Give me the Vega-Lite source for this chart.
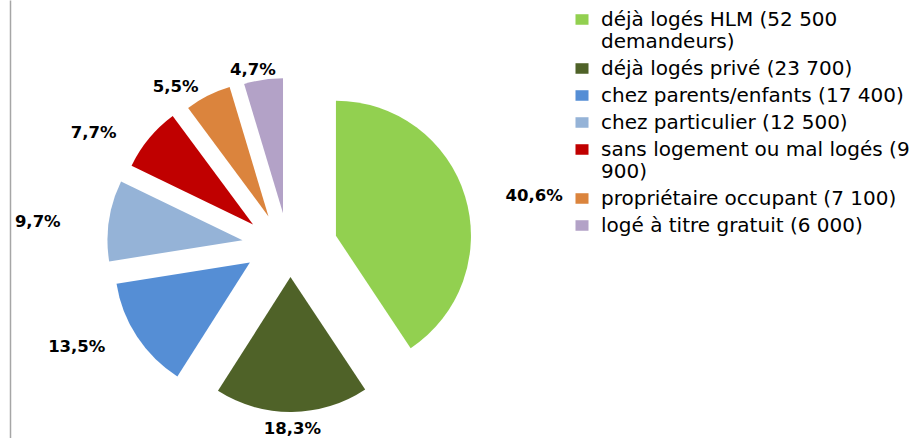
{
  "$schema": "https://vega.github.io/schema/vega-lite/v6.json",
  "width": 911,
  "height": 438,
  "autosize": {"type": "none"},
  "padding": {"left": 10, "top": 0, "right": 0, "bottom": 0},
  "background": "white",
  "config": {"view": {"stroke": null}},
  "data": {
    "values": [
      {"ord": 1, "cat": "déjà logés HLM (52 500 demandeurs)", "value": 52500, "label": "40,6%"},
      {"ord": 2, "cat": "déjà logés privé (23 700)", "value": 23700, "label": "18,3%"},
      {"ord": 3, "cat": "chez parents/enfants (17 400)", "value": 17400, "label": "13,5%"},
      {"ord": 4, "cat": "chez particulier (12 500)", "value": 12500, "label": "9,7%"},
      {"ord": 5, "cat": "sans logement ou mal logés (9 900)", "value": 9900, "label": "7,7%"},
      {"ord": 6, "cat": "propriétaire occupant (7 100)", "value": 7100, "label": "5,5%"},
      {"ord": 7, "cat": "logé à titre gratuit (6 000)", "value": 6000, "label": "4,7%"}
    ]
  },
  "transform": [
    {"joinaggregate": [{"op": "sum", "field": "value", "as": "total"}]},
    {"window": [{"op": "sum", "field": "value", "as": "cum"}], "sort": [{"field": "ord"}], "frame": [null, 0]},
    {"calculate": "datum.cum - datum.value", "as": "start"},
    {"calculate": "2*PI*(datum.cum - datum.value/2)/datum.total", "as": "mid"},
    {"calculate": "sin(datum.mid)", "as": "ux"},
    {"calculate": "cos(datum.mid)", "as": "uy"}
  ],
  "resolve": {"scale": {"x": "independent", "y": "independent"}, "axis": {"x": "independent", "y": "independent"}},
  "layer": [
    {
      "mark": {"type": "arc", "outerRadius": 135, "stroke": null},
      "encoding": {
        "theta": {"field": "start", "type": "quantitative", "scale": {"domain": [0, 129100]}},
        "theta2": {"field": "cum"},
        "x": {"field": "ux", "type": "quantitative", "scale": {"domain": [-1, 1], "range": [232, 328], "nice": false, "zero": false}, "axis": null},
        "y": {"field": "uy", "type": "quantitative", "scale": {"domain": [-6.03125, 7.65625], "nice": false, "zero": false},
              "axis": {"domain": true, "domainColor": "#a6a6a6", "domainWidth": 1.5, "ticks": false, "labels": false, "grid": false, "title": null}},
        "color": {
          "field": "cat", "type": "nominal",
          "scale": {
            "domain": ["déjà logés HLM (52 500 demandeurs)", "déjà logés privé (23 700)", "chez parents/enfants (17 400)", "chez particulier (12 500)", "sans logement ou mal logés (9 900)", "propriétaire occupant (7 100)", "logé à titre gratuit (6 000)"],
            "range": ["#92D050", "#4F6228", "#558ED5", "#95B3D7", "#C00000", "#DB843D", "#B3A2C7"]
          },
          "legend": {
            "orient": "none", "legendX": 562, "legendY": 16, "title": null, "padding": 0,
            "symbolType": "M-1.1,-1.99H1.1V-0.21H-1.1Z", "symbolSize": 140, "symbolStrokeWidth": 0,
            "labelFont": "DejaVu Sans", "labelFontSize": 20, "labelColor": "#000000", "labelLimit": 500,
            "labelOffset": 9, "rowPadding": 7, "labelBaseline": "alphabetic",
            "labelExpr": "datum.value == 'déjà logés HLM (52 500 demandeurs)' ? ['déjà logés HLM (52 500', 'demandeurs)'] : datum.value == 'sans logement ou mal logés (9 900)' ? ['sans logement ou mal logés (9', '900)'] : datum.label"
          }
        }
      }
    },
    {
      "mark": {"type": "text", "font": "DejaVu Sans", "fontWeight": "bold", "fontSize": 16.5, "color": "#000000", "align": "center", "baseline": "middle"},
      "encoding": {
        "x": {"field": "ux", "type": "quantitative", "scale": {"domain": [-1, 1], "range": [25, 535], "nice": false, "zero": false}, "axis": null},
        "y": {"field": "uy", "type": "quantitative", "scale": {"domain": [-1, 1], "range": [429, 68], "nice": false, "zero": false}, "axis": null},
        "text": {"field": "label"}
      }
    }
  ]
}
